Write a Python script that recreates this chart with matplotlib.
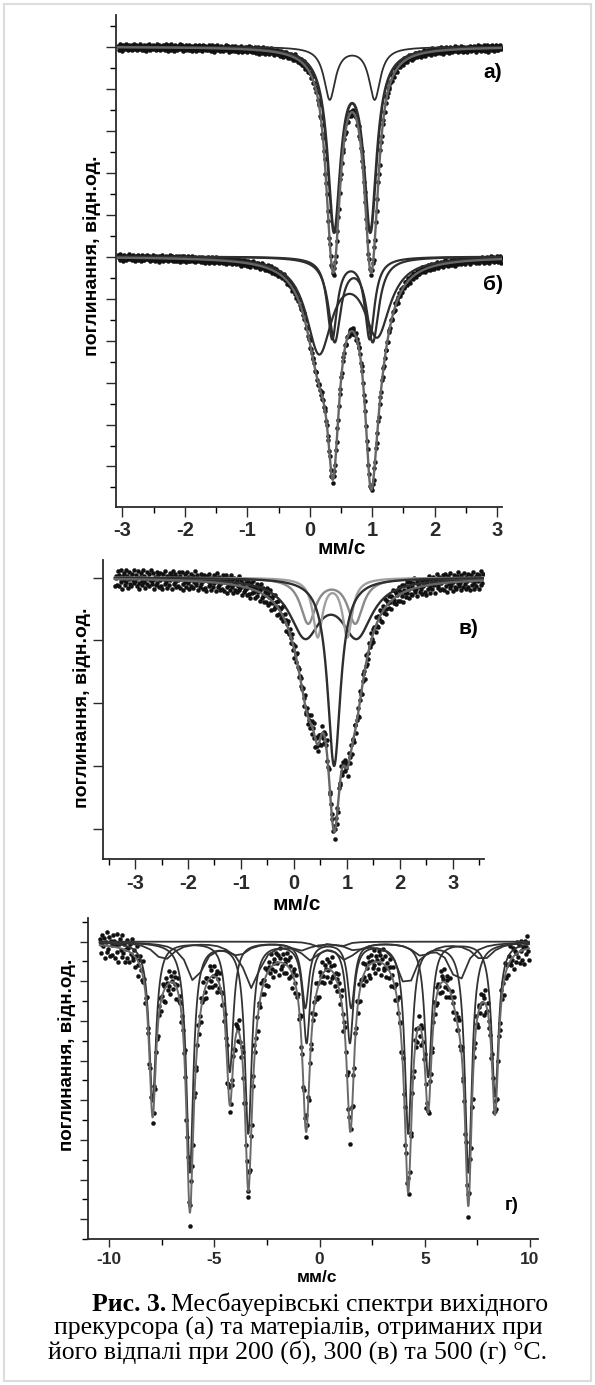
import numpy as np
import matplotlib
matplotlib.use("Agg")
import matplotlib.pyplot as plt
from matplotlib.patches import Rectangle

W, H, DPI = 595, 1385, 100
plt.rcParams["axes.unicode_minus"] = False
SANS = ["Liberation Sans", "DejaVu Sans"]
SERIF = ["Liberation Serif", "DejaVu Serif"]

# ---------------- fitted sub-spectra: line positions (mm/s), HWHM, line depths ----------------
# (а) precursor: two quadrupole doublets
a_lines = [[0.32, 1.04], [0.39, 0.97]]
a_hwhm = [0.11, 0.126]
a_depth = [[0.0248, 0.0248], [0.0848, 0.0848]]

# (б) 200 °C: three doublets
b_lines = [[0.36, 0.96], [0.40, 1.01], [0.15, 1.08]]
b_hwhm = [0.095, 0.118, 0.249]
b_depth = [[0.0386, 0.0386], [0.0395, 0.0395], [0.0443, 0.0357]]

# (в) 300 °C: broad doublet, two narrower doublets, singlet
c_lines = [[0.21, 1.19], [0.27, 1.16], [0.45, 1.01], [0.76]]
c_hwhm = [0.348, 0.175, 0.11, 0.15]
c_depth = [[0.0440, 0.0440], [0.0355, 0.0355], [0.0460, 0.0460], [0.1500]]
c_colors = ["#2e2e2e", "#8a8a8a", "#a0a0a0", "#2e2e2e"]

# (г) 500 °C: two sextets, two broad sextets, weak doublet
d_lines = [[-7.94, -4.27, -0.68, 1.50, 5.16, 8.34],
           [-6.17, -3.39, -0.62, 1.44, 4.21, 7.07],
           [-5.93, -3.23, -0.45, 1.25, 4.14, 6.59],
           [-7.40, -3.90, -0.90, 1.70, 4.90, 7.75],
           [-0.10, 1.00]]
d_hwhm = [0.20, 0.20, 0.45, 0.55, 0.30]
d_depth = [[0.0806, 0.0655, 0.0330, 0.0330, 0.0680, 0.0780],
           [0.1160, 0.0960, 0.0500, 0.0500, 0.0960, 0.1160],
           [0.0200, 0.0225, 0.0080, 0.0080, 0.0225, 0.0200],
           [0.0090, 0.0070, 0.0040, 0.0040, 0.0070, 0.0090],
           [0.0025, 0.0025]]
d_coarse = [False, False, True, True, True]

# counting-statistics scatter of the measured points (relative units)
scatter = [0.42, -0.71, 0.15, 0.88, -0.33, -0.95, 0.27, 0.64, -0.12, -0.58, 0.91,
           -0.24, 0.36, -0.83, 0.05, 0.73, -0.47, 0.19, -0.66, 0.54, -0.08, 0.97,
           -0.39, -0.15, 0.62, -0.88, 0.31, 0.11, -0.52, 0.79, -0.29, 0.46, -0.74,
           0.02, 0.68, -0.61, 0.23, -0.93, 0.57, 0.14, -0.36, 0.85, -0.19, -0.77,
           0.39, 0.09, -0.49, 0.71, -0.03, 0.52, -0.86, 0.28, 0.95, -0.42, -0.21,
           0.61, -0.69, 0.33, 0.07, -0.55, 0.81]

N_CH = 512
B_OFFSET = 0.10  # vertical shift of spectrum (б)


def absorption(v, lines, hw, depth):
    return sum(d / (1.0 + ((v - p) / hw) ** 2) for p, d in zip(lines, depth))


def total(v, lines, hws, depths):
    return sum(absorption(v, l, w, d) for l, w, d in zip(lines, hws, depths))


def measured(v, model, amp, shift=0):
    s = np.roll(np.resize(np.array(scatter), v.size), shift)
    return model + amp * s


fig = plt.figure(figsize=(W / DPI, H / DPI), dpi=DPI)
fig.patch.set_facecolor("white")


def px_axes(left, top, right, bottom):
    return fig.add_axes([left / W, 1 - bottom / H, (right - left) / W, (bottom - top) / H])


def style(ax, lw=1.3):
    for s in ("top", "right"):
        ax.spines[s].set_visible(False)
    for s in ("left", "bottom"):
        ax.spines[s].set_linewidth(lw)
        ax.spines[s].set_color("#2a2a2a")
    ax.tick_params(direction="out", colors="#2a2a2a", width=1.0)
    ax.tick_params(axis="y", labelleft=False)
    ax.set_facecolor("white")


def ftext(x, y, s, **kw):
    return fig.text(x / W, 1 - y / H, s, **kw)


DOT = dict(ls="none", marker="o", ms=2.9, mfc="#111111", mec="#111111", mew=0.3, zorder=2)
FIT = dict(color="#666666", lw=1.7, zorder=4)
TICKFONT = dict(fontfamily=SANS, fontweight="bold", fontsize=14.5)

# ---------------- top panel: (а) and (б) ----------------
ax1 = px_axes(116, 15, 502, 507)
style(ax1)
v1 = np.linspace(-3.07, 3.08, N_CH)
vf = np.linspace(-3.07, 3.08, 1200)

ax1.plot(v1, measured(v1, 1.0 - total(v1, a_lines, a_hwhm, a_depth), 0.0017), **DOT)
for l, w, d, lw in zip(a_lines, a_hwhm, a_depth, [1.3, 2.0]):
    ax1.plot(vf, 1.0 - absorption(vf, l, w, d), color="#2e2e2e", lw=lw, zorder=3)
ax1.plot(vf, 1.0 - total(vf, a_lines, a_hwhm, a_depth), **FIT)

base_b = 1.0 - B_OFFSET
ax1.plot(v1, measured(v1, base_b - total(v1, b_lines, b_hwhm, b_depth), 0.0017, 17), **DOT)
for l, w, d in zip(b_lines, b_hwhm, b_depth):
    ax1.plot(vf, base_b - absorption(vf, l, w, d), color="#2e2e2e", lw=1.6, zorder=3)
ax1.plot(vf, base_b - total(vf, b_lines, b_hwhm, b_depth), **FIT)

ax1.set_xlim(-3.104, 3.08)
ax1.set_ylim(0.7807, 1.0151)
ax1.set_xticks(np.arange(-3, 4, 1))
ax1.set_xticks(np.arange(-2.5, 3.0, 1), minor=True)
ax1.set_yticks(np.arange(1.0, 0.79, -0.02))
ax1.set_yticks(np.arange(1.01, 0.78, -0.02), minor=True)
ax1.tick_params(which="major", length=7)
ax1.tick_params(which="minor", length=4, width=1.0)
ax1.set_xticklabels([str(t) for t in range(-3, 4)], **TICKFONT)
ax1.tick_params(axis="x", pad=3)

ftext(342, 548, "мм/с", ha="center", va="center", family=SANS, weight="bold", fontsize=15)
ftext(92, 256, "поглинання, відн.од.", ha="center", va="center", rotation=90,
      family=SANS, weight="bold", fontsize=14)
ftext(493, 72, "а)", ha="center", va="center", family=SANS, weight="bold", fontsize=15)
ftext(493, 285, "б)", ha="center", va="center", family=SANS, weight="bold", fontsize=15)

# ---------------- middle panel: (в) ----------------
ax2 = px_axes(103, 560, 484, 859)
style(ax2)
v2 = np.linspace(-3.38, 3.57, N_CH)
vf2 = np.linspace(-3.38, 3.57, 1200)
ax2.plot(v2, measured(v2, 1.0 - total(v2, c_lines, c_hwhm, c_depth), 0.008, 29), **DOT)
for l, w, d, c in zip(c_lines, c_hwhm, c_depth, c_colors):
    ax2.plot(vf2, 1.0 - absorption(vf2, l, w, d), color=c, lw=1.7, zorder=3)
ax2.plot(vf2, 1.0 - total(vf2, c_lines, c_hwhm, c_depth), **FIT)
ax2.set_xlim(-3.605, 3.591)
ax2.set_ylim(0.77586, 1.0141)
ax2.set_xticks(np.arange(-3, 4, 1))
ax2.set_xticks(np.arange(-3.5, 3.6, 1), minor=True)
ax2.set_yticks(np.arange(1.0, 0.79, -0.05))
ax2.tick_params(which="major", length=7)
ax2.tick_params(which="minor", length=4, width=1.0)
ax2.set_xticklabels([str(t) for t in range(-3, 4)], **TICKFONT)

ftext(297, 905, "мм/с", ha="center", va="center", family=SANS, weight="bold", fontsize=15)
ftext(82, 708, "поглинання, відн.од.", ha="center", va="center", rotation=90,
      family=SANS, weight="bold", fontsize=14)
ftext(468, 628, "в)", ha="center", va="center", family=SANS, weight="bold", fontsize=15)

# ---------------- bottom panel: (г) ----------------
ax3 = px_axes(88, 918, 538, 1239)
style(ax3)
v3 = np.linspace(-10.45, 9.95, N_CH)
vf3 = np.linspace(-10.45, 9.95, 1600)
vc3 = np.linspace(-10.45, 9.95, 52)
ax3.plot(v3, measured(v3, 1.0 - total(v3, d_lines, d_hwhm, d_depth), 0.0075, 41), **DOT)
for l, w, d, coarse in zip(d_lines, d_hwhm, d_depth, d_coarse):
    vv = vc3 if coarse else vf3
    ax3.plot(vv, 1.0 - absorption(vv, l, w, d), color="#333333", lw=1.3, zorder=3)
ax3.plot(vf3, 1.0 - total(vf3, d_lines, d_hwhm, d_depth), color="#6a6a6a", lw=1.4, zorder=4)
ax3.set_xlim(-11.01, 10.38)
ax3.set_ylim(0.85023, 1.01194)
ax3.set_xticks([-10, -5, 0, 5, 10])
ax3.set_xticks([-7.5, -2.5, 2.5, 7.5], minor=True)
ax3.set_yticks(np.arange(1.0, 0.855, -0.02))
ax3.set_yticks(np.arange(1.01, 0.85, -0.02), minor=True)
ax3.tick_params(which="major", length=6)
ax3.tick_params(which="minor", length=4, width=1.0)
ax3.set_xticklabels(["-10", "-5", "0", "5", "10"], fontfamily=SANS, fontweight="bold", fontsize=12.5)

ftext(317, 1278, "мм/с", ha="center", va="center", family=SANS, weight="bold", fontsize=12.5)
ftext(67, 1055, "поглинання, відн.од.", ha="center", va="center", rotation=90,
      family=SANS, weight="bold", fontsize=13.5)
ftext(512, 1205, "г)", ha="center", va="center", family=SANS, weight="bold", fontsize=13.5)

# ---------------- caption ----------------
fig.canvas.draw()
r = fig.canvas.get_renderer()
cap_size = 18.5
t0 = ftext(92, 1311, "Рис. 3.", family=SERIF, weight="bold", fontsize=cap_size,
           ha="left", va="baseline")
bb = t0.get_window_extent(renderer=r)
fig.text((bb.x1 + 5) / W, 1 - 1311 / H, "Месбауерівські спектри вихідного", family=SERIF,
         fontsize=cap_size, ha="left", va="baseline")
ftext(298, 1335, "прекурсора (а) та матеріалів, отриманих при", family=SERIF,
      fontsize=cap_size, ha="center", va="baseline")
ftext(298, 1359, "його відпалі при 200 (б), 300 (в) та 500 (г) °C.", family=SERIF,
      fontsize=cap_size, ha="center", va="baseline")

# light page frame
fig.add_artist(Rectangle((4 / W, 4 / H), (W - 8) / W, (H - 8) / H, transform=fig.transFigure,
                         fill=False, edgecolor="#dcdcdc", lw=1.5))

fig.savefig("out.png", dpi=DPI, facecolor="white")
